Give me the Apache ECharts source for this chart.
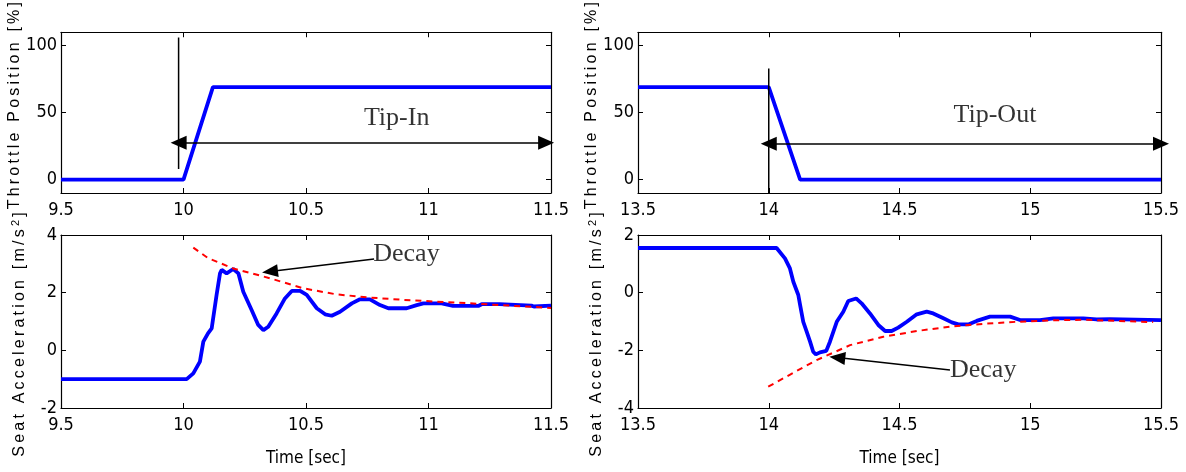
<!DOCTYPE html>
<html>
<head>
<meta charset="utf-8">
<script src="https://cdn.jsdelivr.net/npm/echarts@6/dist/echarts.min.js"></script>
<style>
  html, body { margin: 0; padding: 0; background: #fff; }
  #chart { width: 1186px; height: 472px; }
</style>
</head>
<body>
<div id="chart"></div>
<script>
// throttle, tip-in / tip-out
var tlTime = [9.5, 10.0, 10.12, 11.5];
var tlThrottle = [0, 0, 69, 69];
var trTime = [13.5, 14.0, 14.12, 15.5];
var trThrottle = [69, 69, 0, 0];

// seat acceleration, tip-in
var blTime = [9.5, 10.013, 10.04, 10.067, 10.081, 10.10, 10.115, 10.135, 10.149, 10.156, 10.176, 10.203, 10.224,
  10.244, 10.278, 10.305, 10.326, 10.346, 10.38, 10.414, 10.442, 10.476, 10.503, 10.544, 10.578, 10.605,
  10.639, 10.687, 10.72, 10.761, 10.802, 10.836, 10.911, 10.952, 10.979, 11.054, 11.10, 11.203, 11.217,
  11.29, 11.42, 11.43, 11.5];
var blAcc = [-1, -1, -0.8, -0.39, 0.3, 0.59, 0.76, 1.92, 2.67, 2.79, 2.67, 2.82, 2.67,
  2.03, 1.4, 0.88, 0.7, 0.82, 1.28, 1.8, 2.06, 2.06, 1.92, 1.46, 1.25, 1.2,
  1.34, 1.63, 1.77, 1.77, 1.57, 1.46, 1.46, 1.57, 1.63, 1.63, 1.54, 1.54, 1.6,
  1.6, 1.55, 1.52, 1.55];
var blDecayTime = [10.04, 10.1, 10.203, 10.353, 10.489, 10.625, 10.761, 10.897, 11.033, 11.17, 11.29, 11.5];
var blDecay = [3.56, 3.2, 2.84, 2.5, 2.15, 1.94, 1.83, 1.75, 1.69, 1.63, 1.57, 1.47];

// seat acceleration, tip-out
var brTime = [13.5, 14.03, 14.062, 14.081, 14.094, 14.113, 14.12, 14.132, 14.145, 14.158, 14.17, 14.18, 14.196,
  14.22, 14.234, 14.26, 14.285, 14.304, 14.334, 14.355, 14.387, 14.419, 14.445, 14.47, 14.495, 14.528,
  14.566, 14.604, 14.629, 14.668, 14.70, 14.725, 14.763, 14.795, 14.846, 14.923, 14.961, 15.037, 15.088,
  15.203, 15.254, 15.305, 15.5];
var brAcc = [1.55, 1.55, 1.19, 0.84, 0.38, -0.08, -0.43, -1.01, -1.35, -1.7, -2.05, -2.14, -2.07,
  -2.02, -1.7, -1.01, -0.66, -0.29, -0.2, -0.37, -0.72, -1.12, -1.33, -1.33, -1.21, -1.01,
  -0.75, -0.66, -0.72, -0.89, -1.03, -1.1, -1.1, -0.98, -0.83, -0.83, -0.95, -0.95, -0.89,
  -0.89, -0.93, -0.92, -0.95];
var brDecayTime = [13.998, 14.1, 14.183, 14.311, 14.438, 14.566, 14.693, 14.82, 14.948, 15.076, 15.203, 15.47];
var brDecay = [-3.26, -2.75, -2.34, -1.82, -1.53, -1.33, -1.18, -1.08, -1.01, -0.96, -0.94, -1.02];

// annotations [x, y]
var tipInMarker = [[9.98, 8], [9.98, 106]];
var tipInArrow = [[9.98, 27.5], [11.48, 27.5]];
var tipInText = [10.87, 45.5];
var tipOutMarker = [[14.0, -10], [14.0, 83]];
var tipOutArrow = [[14.0, 26.8], [15.5, 26.8]];
var tipOutText = [14.865, 47.8];
var blDecayArrow = [[10.778, 3.17], [10.353, 2.73]];
var blDecayText = [10.91, 3.33];
var brDecayArrow = [[14.693, -2.68], [14.262, -2.25]];
var brDecayText = [14.82, -2.68];

var xTicksLeft = [9.5, 11.5];
var xTicksRight = [13.5, 15.5];
var throttleTicks = [0, 50, 100];

function zip(a, b) { return a.map(function (x, i) { return [x, b[i]]; }); }
function spaced(s) { return s.split('').join('\u2009'); }

var narrow = "'Liberation Sans Narrow', 'DejaVu Sans Condensed', sans-serif";
var sans = "'Liberation Sans', Arial, sans-serif";
var serif = "'Liberation Serif', 'Times New Roman', serif";

var grids = [
  {left: 61, top: 26, width: 490, height: 167},
  {left: 61, top: 235, width: 490, height: 173},
  {left: 638, top: 26, width: 523, height: 167},
  {left: 638, top: 235, width: 523, height: 173}
];

var tick = {inside: true, length: 5, lineStyle: {color: '#000', width: 1}};
var line = {onZero: false, lineStyle: {color: '#000', width: 1.2}};

var xAxes = [], yAxes = [];
[xTicksLeft, xTicksLeft, xTicksRight, xTicksRight].forEach(function (r, g) {
  var base = {gridIndex: g, type: 'value', min: r[0], max: r[1], interval: 0.5,
    axisLine: line, axisTick: tick, splitLine: {show: false}};
  xAxes.push(Object.assign({}, base, {
    position: 'bottom',
    axisLabel: {margin: 8, fontFamily: narrow, fontSize: 18, color: '#000'},
    name: (g % 2 === 1) ? 'Time [sec]' : '', nameLocation: 'middle', nameGap: 42,
    nameTextStyle: {fontFamily: narrow, fontSize: 17, color: '#000'}
  }));
  xAxes.push(Object.assign({}, base, {position: 'top', axisLabel: {show: false}}));
});

var yRanges = [[-10, 110], [-2, 4], [-10, 110], [-4, 2]];
var yNameTop = spaced('Throttle Position [%]');
var yNameBottom = spaced('Seat Acceleration [m/s') + '\u2009{sup|2}\u2009]';
yRanges.forEach(function (r, g) {
  var isTop = (g % 2 === 0);
  var base = {gridIndex: g, type: 'value', min: r[0], max: r[1],
    axisLine: line, splitLine: {show: false}};
  if (isTop) {
    base.axisTick = Object.assign({customValues: throttleTicks}, tick);
  } else {
    base.interval = 2;
    base.axisTick = tick;
  }
  var lbl = {margin: 4, fontFamily: narrow, fontSize: 18, color: '#000'};
  if (isTop) lbl.customValues = throttleTicks;
  yAxes.push(Object.assign({}, base, {
    position: 'left', axisLabel: lbl,
    name: isTop ? yNameTop : yNameBottom, nameLocation: 'middle', nameGap: 32,
    nameTextStyle: {fontFamily: sans, fontSize: 16, color: '#000',
      padding: isTop ? [0, 0, 0, 14] : [0, 26, 0, 0],
      rich: {sup: {fontSize: 11, fontFamily: sans, color: '#000', padding: [0, 0, 8, 0]}}}
  }));
  yAxes.push(Object.assign({}, base, {position: 'right', axisLabel: {show: false}}));
});

function curve(g, data, color, width, dashed) {
  return {type: 'line', xAxisIndex: 2 * g, yAxisIndex: 2 * g, data: data, showSymbol: false, symbol: 'none',
    lineStyle: {color: color, width: width, type: dashed ? [6, 5] : 'solid'}, z: dashed ? 4 : 3, silent: true};
}
function arrow(g, pts, both, size) {
  return {type: 'line', xAxisIndex: 2 * g, yAxisIndex: 2 * g, data: [], silent: true,
    markLine: {silent: true, animation: false, symbol: [both ? 'triangle' : 'none', 'triangle'], symbolSize: size,
      label: {show: false}, lineStyle: {color: '#000', width: 1.5, type: 'solid'},
      emphasis: {disabled: true},
      data: [[{coord: pts[0]}, {coord: pts[1]}]]}};
}
function note(g, pos, text) {
  return {type: 'scatter', xAxisIndex: 2 * g, yAxisIndex: 2 * g, data: [pos], symbolSize: 0, silent: true,
    label: {show: true, position: 'inside', formatter: text, fontFamily: serif, fontSize: 26,
      color: '#000', textBorderWidth: 0, textShadowBlur: 0}};
}

var chart = echarts.init(document.getElementById('chart'));
chart.setOption({
  animation: false,
  backgroundColor: '#fff',
  grid: grids,
  xAxis: xAxes,
  yAxis: yAxes,
  series: [
    curve(0, zip(tlTime, tlThrottle), '#0000ff', 3.8),
    {type: 'line', xAxisIndex: 0, yAxisIndex: 0, data: tipInMarker, symbol: 'none', lineStyle: {color: '#000', width: 1.5}},
    arrow(0, tipInArrow, true, [14, 16]),
    note(0, tipInText, 'Tip-In'),

    curve(1, zip(blTime, blAcc), '#0000ff', 3.8),
    curve(1, zip(blDecayTime, blDecay), '#ff0000', 2, true),
    arrow(1, blDecayArrow, false, [13, 16]),
    note(1, blDecayText, 'Decay'),

    curve(2, zip(trTime, trThrottle), '#0000ff', 3.8),
    {type: 'line', xAxisIndex: 4, yAxisIndex: 4, data: tipOutMarker, symbol: 'none', lineStyle: {color: '#000', width: 1.5}},
    arrow(2, tipOutArrow, true, [14, 16]),
    note(2, tipOutText, 'Tip-Out'),

    curve(3, zip(brTime, brAcc), '#0000ff', 3.8),
    curve(3, zip(brDecayTime, brDecay), '#ff0000', 2, true),
    arrow(3, brDecayArrow, false, [13, 16]),
    note(3, brDecayText, 'Decay')
  ]
});
</script>
</body>
</html>
